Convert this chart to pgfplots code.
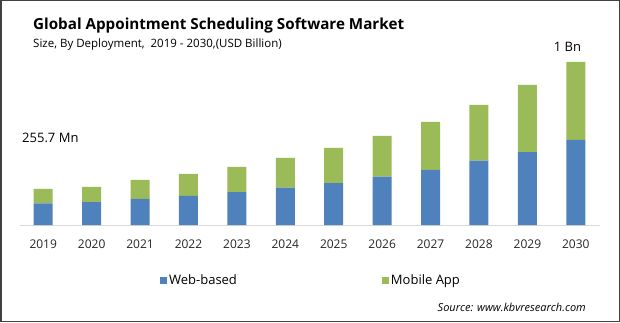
\documentclass[border=0pt]{standalone}
\usepackage{pgfplots}
\pgfplotsset{compat=1.18}
\usepackage{fontspec}
\setmainfont{Open Sans}
\definecolor{webc}{HTML}{4F81BD}
\definecolor{mobc}{HTML}{9BBB59}
\definecolor{axc}{HTML}{D9D9D9}
\begin{document}
\begin{tikzpicture}[x=1pt,y=1pt]
\path[use as bounding box] (0,0) rectangle (620,322);
\draw[color=black!75, line width=1.5pt] (0.75,0.75) rectangle (619.25,321.25);
\begin{axis}[
  at={(20pt,97pt)}, anchor=south west,
  scale only axis, width=580pt, height=175pt,
  xmin=-0.48, xmax=11.5, ymin=0, ymax=1242,
  ybar stacked, bar width=19pt,
  hide y axis,
  axis x line=bottom,
  x axis line style={draw=axc, line width=0.8pt, -},
  xtick={0,...,11},
  xticklabels={2019,2020,2021,2022,2023,2024,2025,2026,2027,2028,2029,2030},
  major tick length=0pt,
  xticklabel style={font=\fontsize{12}{14}\selectfont, anchor=base, yshift=-23pt, text=black!85},
  legend style={at={(rel axis cs:0.236,-0.315)}, anchor=west, draw=none, fill=none,
    font=\fontsize{13}{15}\selectfont, legend columns=2,
    /tikz/every even column/.append style={column sep=143pt}},
  legend image code/.code={\fill[#1] (0pt,-3.5pt) rectangle (7pt,3.5pt);},
]
\addplot[fill=webc, draw=none] coordinates {(0,154) (1,163) (2,185) (3,206) (4,234) (5,265) (6,298) (7,343) (8,391) (9,457) (10,518) (11,604)};
\addplot[fill=mobc, draw=none] coordinates {(0,101.7) (1,107) (2,135) (3,156) (4,178) (5,211) (6,249) (7,289) (8,341) (9,395) (10,476) (11,554)};
\legend{Web-based, Mobile App}
\end{axis}
\node[anchor=base west, inner sep=0, font=\fontsize{15.2}{18}\selectfont\bfseries] at (33,292.7) {Global Appointment Scheduling Software Market};
\node[anchor=base west, inner sep=0, font=\fontsize{11.5}{13}\selectfont] at (33,274.3) {Size, By Deployment,\ \ 2019 - 2030,(USD Billion)};
\node[anchor=base west, inner sep=0, font=\fontsize{13}{15}\selectfont] at (22,180) {255.7 Mn};
\node[anchor=base, inner sep=0, font=\fontsize{13}{15}\selectfont] at (567.5,270) {1 Bn};
\node[anchor=base east, inner sep=0, font=\fontsize{11}{13}\selectfont\itshape] at (586,11) {Source: www.kbvresearch.com};
\end{tikzpicture}
\end{document}
